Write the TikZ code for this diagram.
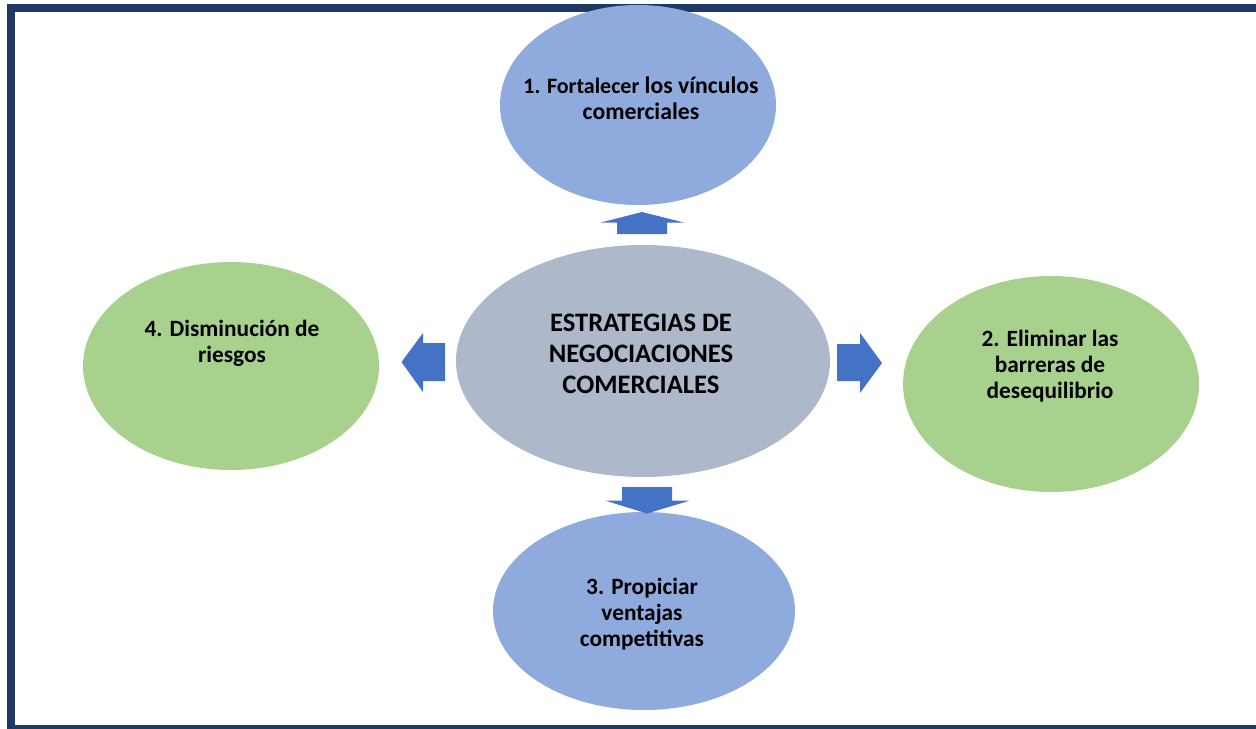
\documentclass[tikz,border=0pt]{standalone}
\usepackage{fontspec}
\setmainfont{Carlito}
\usepackage{tikz}

\begin{document}
\begin{tikzpicture}[x=0.75pt,y=0.75pt,yscale=-1,xscale=1]
\useasboundingbox (0,0) rectangle (1256,728);

%Shape: Rectangle [id:frame] 
\draw [color={rgb, 255:red, 31; green, 56; blue, 100 } ,line width=6pt] (10.5,8) -- (1259.5,8) -- (1259.5,729) -- (10.5,729) -- cycle ;
%Shape: Ellipse [id:top] 
\fill [color={rgb, 255:red, 143; green, 170; blue, 220 }] (638,105) ellipse (138 and 100) ;
%Shape: Ellipse [id:center] 
\fill [color={rgb, 255:red, 173; green, 185; blue, 202 }] (643,361) ellipse (187 and 116) ;
%Shape: Ellipse [id:left] 
\fill [color={rgb, 255:red, 169; green, 209; blue, 142 }] (231,366) ellipse (148 and 104) ;
%Shape: Ellipse [id:right] 
\fill [color={rgb, 255:red, 169; green, 209; blue, 142 }] (1051,384) ellipse (148 and 108) ;
%Shape: Ellipse [id:bottom] 
\fill [color={rgb, 255:red, 143; green, 170; blue, 220 }] (644,611) ellipse (151 and 99) ;
%Up Arrow [id:arrowup] 
\draw [draw=none,fill={rgb, 255:red, 68; green, 114; blue, 196 } ,fill opacity=1 ] (642,212) -- (684,222.5) -- (667,222.5) -- (667,234) -- (617,234) -- (617,222.5) -- (601,222.5) -- cycle ;
%Left Arrow [id:arrowleft] 
\draw [draw=none,fill={rgb, 255:red, 68; green, 114; blue, 196 } ,fill opacity=1 ] (401.5,362) -- (423,333) -- (423,343) -- (445,343) -- (445,381) -- (423,381) -- (423,392) -- cycle ;
%Right Arrow [id:arrowright] 
\draw [draw=none,fill={rgb, 255:red, 68; green, 114; blue, 196 } ,fill opacity=1 ] (882,363) -- (860,393) -- (860,381) -- (837,381) -- (837,344) -- (860,344) -- (860,333) -- cycle ;
%Down Arrow [id:arrowdown] 
\draw [draw=none,fill={rgb, 255:red, 68; green, 114; blue, 196 } ,fill opacity=1 ] (647,513.5) -- (605,500.5) -- (622,500.5) -- (622,487) -- (672,487) -- (672,500.5) -- (690,500.5) -- cycle ;

% Text Node
\draw (641,98) node (txtone) [inner sep=0.75pt]  [align=center,font=\fontsize{17.8}{19.5}\selectfont\bfseries] {{\fontsize{16.5}{19.5}\selectfont 1. Fortalecer} los vínculos\\comerciales};
% Text Node
\draw (641,354) node (txtmain) [inner sep=0.75pt]  [align=center,font=\fontsize{20}{23}\selectfont\bfseries] {ESTRATEGIAS DE\\NEGOCIACIONES\\COMERCIALES};
% Text Node
\draw (232,343) node (txtfour) [inner sep=0.75pt]  [align=center,font=\fontsize{17.5}{19.5}\selectfont\bfseries] {4. Disminución de\\riesgos};
% Text Node
\draw (1050,366) node (txttwo) [inner sep=0.75pt]  [align=center,font=\fontsize{17.5}{19.5}\selectfont\bfseries] {2. Eliminar las\\barreras de\\desequilibrio};
% Text Node
\draw (642,614) node (txtthree) [inner sep=0.75pt]  [align=center,font=\fontsize{17.5}{19.5}\selectfont\bfseries] {3. Propiciar\\ventajas\\competitivas};
\end{tikzpicture}
\end{document}
